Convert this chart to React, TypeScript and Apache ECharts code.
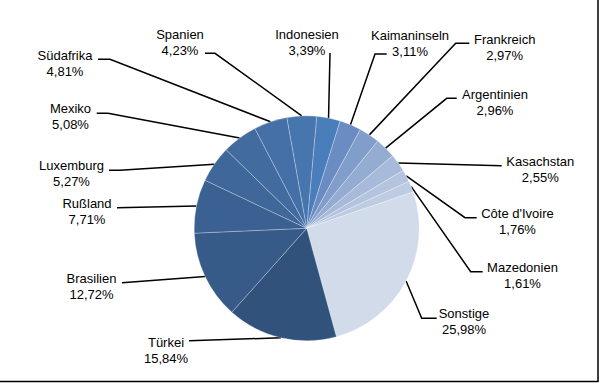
import React, { useEffect, useRef } from "react";
import * as echarts from "echarts";

// Slices in clockwise order starting just right of 12 o'clock
const names = [
  "Indonesien",
  "Kaimaninseln",
  "Frankreich",
  "Argentinien",
  "Kasachstan",
  "Côte d'Ivoire",
  "Mazedonien",
  "Sonstige",
  "Türkei",
  "Brasilien",
  "Rußland",
  "Luxemburg",
  "Mexiko",
  "Südafrika",
  "Spanien",
];
const values = [3.39, 3.11, 2.97, 2.96, 2.55, 1.76, 1.61, 25.98, 15.84, 12.72, 7.71, 5.27, 5.08, 4.81, 4.23];
const colors = [
  "#4a7ebb",
  "#6a8cc2",
  "#819dca",
  "#95acd2",
  "#a7bad9",
  "#b4c4df",
  "#bdcbe3",
  "#d2dbea",
  "#30527b",
  "#365b89",
  "#3b6192",
  "#3f6799",
  "#426b9f",
  "#4570a7",
  "#4775ae",
];

// Label layout (centre of the two-line label block) and leader-line bends
const labelPos: number[][] = [
  [307, 42.5],
  [410, 43],
  [504.7, 47.2],
  [495, 102.5],
  [540.3, 169.3],
  [517.5, 221.7],
  [522.5, 275.3],
  [464, 321.8],
  [166, 350.2],
  [91.5, 286.8],
  [87, 211.2],
  [71.5, 173.2],
  [70.5, 116.8],
  [65, 63],
  [180, 42.3],
];
const bends: number[][][] = [
  [[330, 53]],
  [[375, 54], [386.7, 54]],
  [[455.7, 43.3], [469.3, 43.3]],
  [[446.7, 98.3], [456.7, 98.3]],
  [[501.7, 165.7]],
  [[465, 217.7], [476.7, 217.7]],
  [[470.7, 271.7], [482.7, 271.7]],
  [[421.7, 318.3], [436.7, 318.3]],
  [[189, 340.7]],
  [[122, 282.7]],
  [[117, 207.7]],
  [[120, 170.3], [109, 170.3]],
  [[108, 113.3], [96.7, 113.3]],
  [[110, 59.3], [98, 59.3]],
  [[215, 53.3], [205, 53.3]],
];

export default function App() {
  const ref = useRef<HTMLDivElement>(null);
  useEffect(() => {
    if (!ref.current) return;
    const chart = echarts.init(ref.current, undefined, { renderer: "svg" });
    chart.setOption({
      animation: false,
      backgroundColor: "#ffffff",
      graphic: [
        { type: "line", shape: { x1: 598, y1: 0, x2: 598, y2: 382 }, style: { stroke: "#000", lineWidth: 1.5 } },
        { type: "line", shape: { x1: 0, y1: 381.5, x2: 598.5, y2: 381.5 }, style: { stroke: "#000", lineWidth: 1.5 } },
      ],
      series: [
        {
          type: "pie",
          center: [306.7, 228.3],
          radius: 112.5,
          startAngle: 84.9,
          clockwise: true,
          avoidLabelOverlap: false,
          itemStyle: { borderColor: "rgba(255,255,255,0.45)", borderWidth: 0.6 },
          label: {
            show: true,
            position: "outside",
            color: "#000",
            fontFamily: "'Liberation Sans', Arial, sans-serif",
            fontSize: 13,
            lineHeight: 16,
            align: "center",
            formatter: (p: any) => p.name + "\n" + Number(p.value).toFixed(2).replace(".", ",") + "%",
          },
          labelLine: { show: true, smooth: false, lineStyle: { color: "#000", width: 1.5 } },
          labelLayout: (p: any) => {
            const i = p.dataIndex;
            const pts = p.labelLinePoints;
            const start = pts && pts[0] ? [pts[0][0], pts[0][1]] : null;
            const out: any = {
              x: labelPos[i][0],
              y: labelPos[i][1],
              align: "center",
              verticalAlign: "middle",
            };
            if (start) out.labelLinePoints = [start, ...bends[i]];
            return out;
          },
          data: names.map((n, i) => ({ name: n, value: values[i], itemStyle: { color: colors[i] } })),
        },
      ],
    });
    return () => chart.dispose();
  }, []);
  return <div ref={ref} style={{ position: "fixed", left: 0, top: 0, width: 603, height: 383 }} />;
}
